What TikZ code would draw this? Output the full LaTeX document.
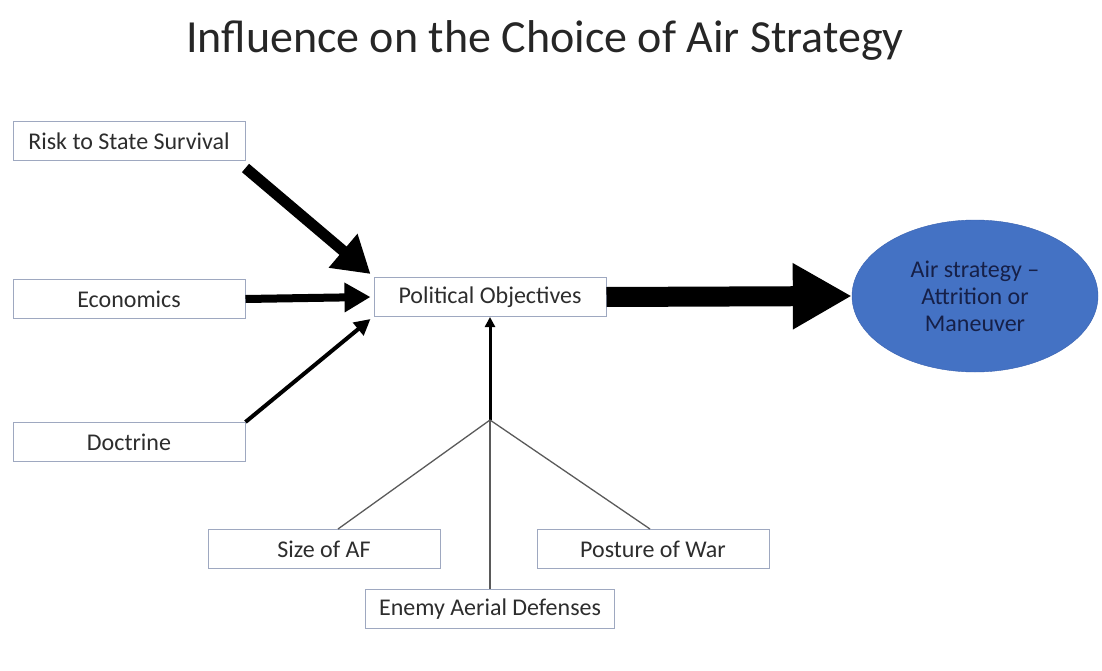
\documentclass[tikz,border=0pt]{standalone}
\usepackage{fontspec}
\setmainfont{Carlito}
\usepackage{tikz}
\usetikzlibrary{arrows.meta,positioning,shapes.geometric,calc}

\definecolor{boxline}{RGB}{158,168,192}
\definecolor{boxtext}{RGB}{45,45,45}
\definecolor{stratfill}{RGB}{68,114,196}
\definecolor{stratline}{RGB}{58,98,176}
\definecolor{strattext}{RGB}{22,32,72}
\definecolor{feedline}{RGB}{90,90,90}

\tikzset{
  factor/.style={draw=boxline, line width=1pt, fill=white, text=boxtext,
    minimum width=232pt, minimum height=39pt, inner sep=0pt,
    font=\fontsize{24}{28}\selectfont},
  strategy/.style={ellipse, draw=stratline, fill=stratfill, text=strattext,
    minimum width=246pt, minimum height=152pt, inner sep=0pt, align=center,
    font=\fontsize{24}{27}\selectfont},
  push/.style={draw=black, line cap=butt},
  feed/.style={draw=feedline, line width=1.3pt}
}

\begin{document}
\begin{tikzpicture}[x=1pt,y=-1pt]
  \useasboundingbox (0,0) rectangle (1102,671);
  \node[font=\fontsize{46}{50}\selectfont, text=black!85] (title) at (545,40)
    {Influence on the Choice of Air Strategy};

  % left column
  \node[factor] (econ) at (129,299) {Economics};
  \node[factor, above=118pt of econ] (risk) {Risk to State Survival};
  \node[factor, below=103pt of econ] (doct) {Doctrine};

  % centre and outcome
  \node[factor] (polobj) at (490,297) {Political Objectives};
  \node[strategy] (strat) at (975,296) {Air strategy --\\Attrition or\\Maneuver};

  % bottom row
  \coordinate (hub) at (490,420);
  \node[factor] (size) at (324,549) {Size of AF};
  \node[factor] (post) at (653,549) {Posture of War};
  \node[factor, minimum width=249pt] (enemy) at (490,609) {Enemy Aerial Defenses};

  % arrows into political objectives
  \draw[push, line width=11pt, -{Triangle[length=36pt,width=42pt]}]
    ([yshift=-7pt]risk.south east) -- ([xshift=-3pt,yshift=3pt]polobj.north west);
  \draw[push, line width=8pt, -{Triangle[length=26pt,width=28pt]}]
    (econ.east) -- ([xshift=-3pt]polobj.west);
  \draw[push, line width=4pt, -{Triangle[length=16pt,width=16pt]}]
    (doct.north east) -- ([xshift=-3pt,yshift=-2pt]polobj.south west);
  \draw[push, line width=3pt, -{Triangle[length=10pt,width=10pt]}]
    (hub) -- (polobj.south);

  % main arrow
  \draw[push, line width=20pt, -{Triangle[length=59pt,width=62pt]}]
    (polobj.east) -- (strat.west);

  % feeders
  \draw[feed] (hub) -- ([xshift=14pt]size.north);
  \draw[feed] (hub) -- ([xshift=-3pt]post.north);
  \draw[feed] (hub) -- (enemy.north);
\end{tikzpicture}
\end{document}
